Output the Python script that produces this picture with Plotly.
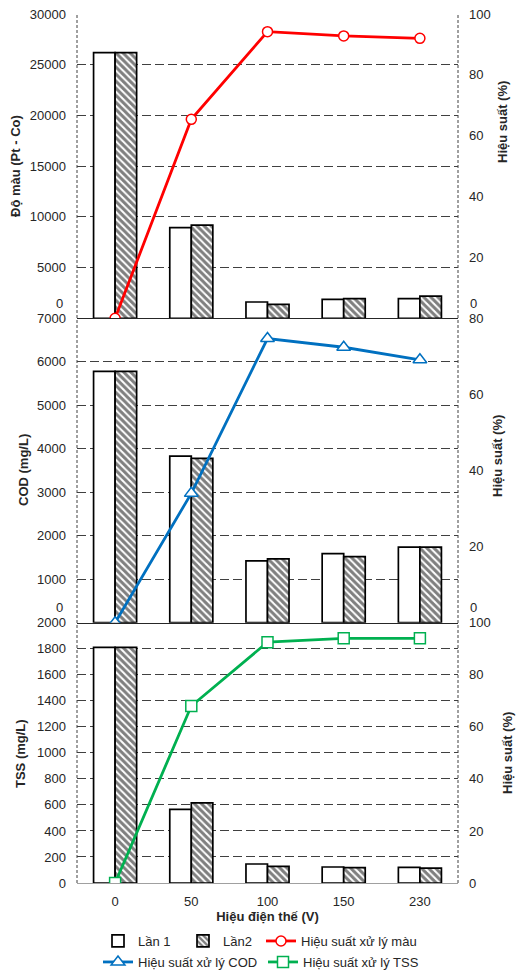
import plotly.graph_objects as go
from plotly.subplots import make_subplots

# Applied voltage (V) – category axis shared by the three panels
voltage = ["0", "50", "100", "150", "230"]

# Colour (Pt-Co) for the two runs and colour removal efficiency (%)
color_run1 = [26200, 8950, 1610, 1870, 1940]
color_run2 = [26200, 9180, 1380, 1940, 2200]
color_eff = [0, 65.4, 94.2, 92.8, 92.0]

# COD (mg/L) for the two runs and COD removal efficiency (%)
cod_run1 = [5780, 3830, 1420, 1590, 1740]
cod_run2 = [5780, 3780, 1470, 1520, 1740]
cod_eff = [0, 34.0, 74.7, 72.4, 69.1]

# TSS (mg/L) for the two runs and TSS removal efficiency (%)
tss_run1 = [1810, 565, 146, 123, 120]
tss_run2 = [1810, 615, 128, 118, 115]
tss_eff = [0, 68.0, 92.5, 94.0, 94.0]

FONT = "Liberation Sans, Arial, sans-serif"
INK = "#262626"
GRID = "#404040"

W, H = 516, 970
L, R, T, B = 77, 58, 14, 87


def px_x(px):
    return (px - L) / (W - L - R)


def px_y(py):
    return (H - B - py) / (H - T - B)


fig = make_subplots(
    rows=3, cols=1, shared_xaxes=True, vertical_spacing=0,
    row_heights=[304, 304, 260],
    specs=[[{"secondary_y": True}]] * 3,
)

hatch = dict(shape="\\", fgcolor="black", bgcolor="white", size=5, solidity=0.6)
outline = dict(color="black", width=1.7)


def add_panel(row, r1, r2, eff, eff_name, eff_color, symbol, msize, first):
    fig.add_trace(go.Bar(
        x=voltage, y=r1, name="Lần 1", legendgroup="run1", showlegend=first,
        marker=dict(color="white", line=outline), legendwidth=40,
    ), row=row, col=1, secondary_y=False)
    fig.add_trace(go.Bar(
        x=voltage, y=r2, name="Lần2", legendgroup="run2", showlegend=first,
        marker=dict(color="white", line=outline, pattern=hatch), legendwidth=33,
    ), row=row, col=1, secondary_y=False)
    fig.add_trace(go.Scatter(
        x=voltage, y=eff, name=eff_name, mode="lines+markers",
        line=dict(color=eff_color, width=2.8),
        marker=dict(symbol=symbol, size=msize, color="white",
                    line=dict(color=eff_color, width=1.5)),
        legend="legend" if row == 1 else "legend2",
        legendwidth=120,
    ), row=row, col=1, secondary_y=True)


add_panel(1, color_run1, color_run2, color_eff, "Hiệu suất xử lý màu", "#FF0000", "circle", 10, True)
add_panel(2, cod_run1, cod_run2, cod_eff, "Hiệu suất xử lý COD", "#0070C0", "triangle-up", 12, False)
add_panel(3, tss_run1, tss_run2, tss_eff, "Hiệu suất xử lý TSS", "#00B050", "square", 11, False)

tickfont = dict(family=FONT, size=13, color=INK)
prim = dict(showgrid=True, gridcolor=GRID, gridwidth=1, griddash="9px,4px",
            zeroline=False, showline=False, ticks="", tickfont=tickfont,
            ticklabelstandoff=10, tickmode="array", tickformat="d", automargin=False)
sec = dict(showgrid=False, zeroline=False, showline=False, ticks="",
           tickfont=tickfont, ticklabelstandoff=10, tickmode="array", automargin=False)

fig.update_yaxes(row=1, col=1, secondary_y=False, range=[0, 30000],
                 tickvals=list(range(5000, 30001, 5000)), **prim)
fig.update_yaxes(row=1, col=1, secondary_y=True, range=[0, 100],
                 tickvals=list(range(20, 101, 20)), **sec)
fig.update_yaxes(row=2, col=1, secondary_y=False, range=[0, 7000],
                 tickvals=list(range(1000, 7001, 1000)), **prim)
fig.update_yaxes(row=2, col=1, secondary_y=True, range=[0, 80],
                 tickvals=list(range(20, 81, 20)), **sec)
fig.update_yaxes(row=3, col=1, secondary_y=False, range=[0, 2000],
                 tickvals=list(range(0, 2001, 200)), **prim)
fig.update_yaxes(row=3, col=1, secondary_y=True, range=[0, 100],
                 tickvals=list(range(0, 101, 20)), **sec)

fig.update_xaxes(domain=[0, 1], showgrid=False, zeroline=False, ticks="", showline=True,
                 linecolor=INK, linewidth=1, tickfont=tickfont, automargin=False)
fig.update_xaxes(row=3, col=1, linecolor="#a0a0a0", ticklabelstandoff=6,
                 title=dict(text="<b>Hiệu điện thế (V)</b>", standoff=4,
                            font=dict(family=FONT, size=13, color=INK)))

# dotted side borders of the stacked plot area
for xb in (0, 1):
    fig.add_shape(type="line", xref="paper", yref="paper", x0=xb, x1=xb, y0=0, y1=1,
                  line=dict(color=GRID, width=1, dash="3px,2px"), layer="above")

title_font = dict(family=FONT, size=13, color=INK)
titles = [
    ("<b>Độ màu (Pt - Co)</b>", 15, 166),
    ("<b>COD (mg/L)</b>", 23, 470),
    ("<b>TSS (mg/L)</b>", 20, 753),
    ("<b>Hiệu suất (%)</b>", 502, 122),
    ("<b>Hiệu suất (%)</b>", 498, 456),
    ("<b>Hiệu suất (%)</b>", 507, 753),
]
for text, x, y in titles:
    fig.add_annotation(text=text, xref="paper", yref="paper", x=px_x(x), y=px_y(y),
                       xanchor="center", yanchor="middle", textangle=-90,
                       showarrow=False, font=title_font)

# zero labels of the upper two panels sit just above their baseline
for yref in ("y", "y3"):
    fig.add_annotation(text="0", xref="paper", yref=yref, x=0, y=0, xanchor="right",
                       xshift=-12, yshift=15, showarrow=False, font=tickfont)
for yref in ("y2", "y4"):
    fig.add_annotation(text="0", xref="paper", yref=yref, x=1, y=0, xanchor="left",
                       xshift=10, yshift=15, showarrow=False, font=tickfont)

legend_common = dict(orientation="h", xref="container", yref="container",
                     xanchor="left", yanchor="top", bgcolor="rgba(0,0,0,0)",
                     font=dict(family=FONT, size=13, color=INK), traceorder="normal",
                     tracegroupgap=0)

fig.update_layout(
    width=W, height=H,
    margin=dict(l=L, r=R, t=T, b=B, autoexpand=False),
    barmode="group", bargap=0.435, bargroupgap=0,
    plot_bgcolor="white", paper_bgcolor="white",
    font=dict(family=FONT, size=13, color=INK),
    showlegend=True,
    legend=dict(x=98 / W, y=1 - 926 / H, **legend_common),
    legend2=dict(x=98 / W, y=1 - 947 / H, **legend_common),
)

fig.write_html("out.html")
